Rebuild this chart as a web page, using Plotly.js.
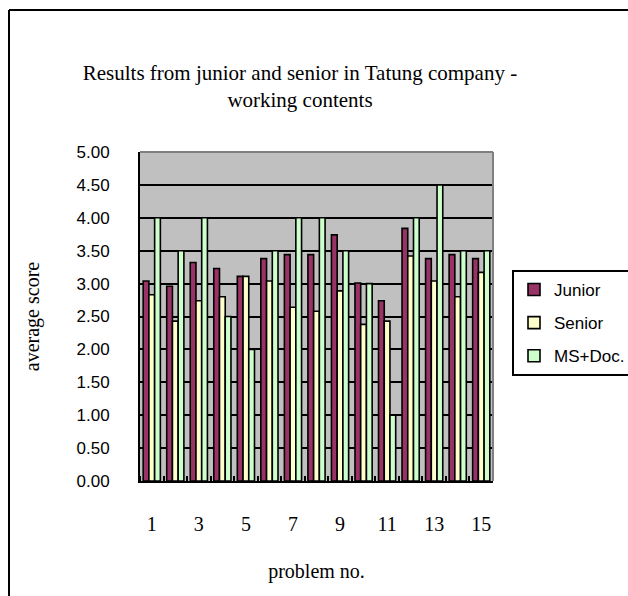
<!DOCTYPE html>
<html>
<head>
<meta charset="utf-8">
<script src="https://cdn.plot.ly/plotly-3.0.1.min.js"></script>
<style>
  html, body { margin: 0; padding: 0; background: #ffffff; }
  #chart { width: 628px; height: 596px; }
</style>
</head>
<body>
<div id="chart"></div>
<script>
// Average scores per problem, by respondent group
const problems = [1, 2, 3, 4, 5, 6, 7, 8, 9, 10, 11, 12, 13, 14, 15];
const juniorScores = [3.04, 2.96, 3.32, 3.23, 3.11, 3.38, 3.44, 3.44, 3.74, 3.01, 2.74, 3.84, 3.38, 3.44, 3.38];
const seniorScores = [2.83, 2.43, 2.74, 2.80, 3.11, 3.04, 2.64, 2.58, 2.89, 2.38, 2.43, 3.42, 3.04, 2.80, 3.17];
const msDocScores  = [4.00, 3.50, 4.00, 2.50, 2.00, 3.50, 4.00, 4.00, 3.50, 3.00, 1.00, 4.00, 4.50, 3.50, 3.50];
const seriesNames = ['Junior', 'Senior', 'MS+Doc.'];
const yTickValues = [0, 0.5, 1, 1.5, 2, 2.5, 3, 3.5, 4, 4.5, 5];

const W = 628, H = 596;
const M = { l: 140, r: 135, t: 152, b: 115, autoexpand: false };
const plotW = W - M.l - M.r, plotH = H - M.t - M.b;
// pixel -> paper helpers for the frame decorations
const px = x => (x - M.l) / plotW;
const py = y => (H - M.b - y) / plotH;

const sans = '"Liberation Sans", Arial, sans-serif';
const serif = '"Liberation Serif", "Times New Roman", serif';
const outline = { color: '#000000', width: 1.6 };

const fills = ['#993366', '#FFFFCC', '#CCFFCC'];
const traces = [juniorScores, seniorScores, msDocScores].map((vals, i) => ({
  type: 'bar',
  name: seriesNames[i],
  x: problems,
  y: vals,
  legendgroup: 'g' + i,
  marker: { color: fills[i], line: outline },
  hoverinfo: 'x+y+name'
}));

const oddLabels = problems.filter(p => p % 2 === 1);
const boundaries = problems.map(p => p - 0.5).concat([problems[problems.length - 1] + 0.5]);

const layout = {
  width: W, height: H,
  margin: M,
  paper_bgcolor: '#ffffff',
  plot_bgcolor: '#C0C0C0',
  barmode: 'group',
  bargap: 0.27,
  bargroupgap: 0,
  showlegend: true,
  title: {
    text: 'Results from junior and senior in Tatung company -<br>working contents',
    font: { family: serif, size: 21, color: '#000000' },
    x: 300 / W, xref: 'container', xanchor: 'center',
    y: 1 - 80 / H, yref: 'container', yanchor: 'top',
    pad: { t: 0, b: 0 }
  },
  xaxis: {
    range: [0.5, 15.5],
    tickmode: 'array',
    tickvals: oddLabels,
    ticktext: oddLabels.map(String),
    ticks: '',
    ticklabelstandoff: 24,
    tickfont: { family: serif, size: 20, color: '#000000' },
    showgrid: false,
    zeroline: false,
    showline: true, linecolor: '#000000', linewidth: 2,
    minor: { tickmode: 'array', tickvals: boundaries, ticks: 'inside', ticklen: 5, tickwidth: 2, tickcolor: '#000000', showgrid: false },
    title: { text: 'problem no.', font: { family: serif, size: 20, color: '#000000' }, standoff: 30 },
    fixedrange: true
  },
  yaxis: {
    range: [0, 5],
    tickmode: 'array',
    tickvals: yTickValues,
    ticktext: yTickValues.map(v => v.toFixed(2)),
    ticks: '',
    ticklabelstandoff: 25,
    tickfont: { family: sans, size: 17, color: '#000000' },
    showgrid: true, gridcolor: '#000000', gridwidth: 2,
    zeroline: false,
    showline: true, linecolor: '#000000', linewidth: 2,
    title: { text: 'average score', font: { family: serif, size: 20, color: '#000000' }, standoff: 32 },
    fixedrange: true
  },
  legend: {
    x: px(512), xref: 'paper', xanchor: 'left',
    y: py(270), yref: 'paper', yanchor: 'top',
    bgcolor: '#ffffff', bordercolor: '#000000', borderwidth: 2,
    font: { family: sans, size: 17, color: '#000000' },
    tracegroupgap: 8,
    itemwidth: 30
  },
  shapes: [
    // plot area top and right edges
    { type: 'line', xref: 'paper', yref: 'paper', x0: 0, x1: 1, y0: 1, y1: 1, line: { color: '#808080', width: 2 }, layer: 'above' },
    { type: 'line', xref: 'paper', yref: 'paper', x0: 1, x1: 1, y0: 0, y1: 1, line: { color: '#808080', width: 2 }, layer: 'above' },
    // chart frame (left and top edges)
    { type: 'line', xref: 'paper', yref: 'paper', x0: px(9), x1: px(9), y0: py(10), y1: py(H + 10), line: { color: '#000000', width: 2 } },
    { type: 'line', xref: 'paper', yref: 'paper', x0: px(9), x1: px(W + 10), y0: py(10), y1: py(10), line: { color: '#000000', width: 2 } }
  ]
};

Plotly.newPlot('chart', traces, layout, { displayModeBar: false, staticPlot: true });
</script>
</body>
</html>
